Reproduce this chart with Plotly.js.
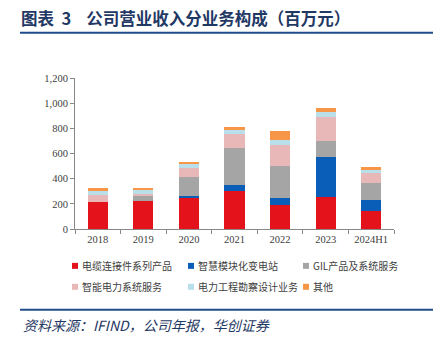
<!DOCTYPE html>
<html><head><meta charset="utf-8">
<script src="https://cdn.plot.ly/plotly-3.0.1.min.js"></script>
<style>html,body{margin:0;padding:0;background:#fff;}#c{width:439px;height:338px;}</style>
</head><body><div id="c"></div>
<script>
const categories = ['2018','2019','2020','2021','2022','2023','2024H1'];
const seriesNames = ['电缆连接件系列产品','智慧模块化变电站','GIL产品及系统服务','智能电力系统服务','电力工程勘察设计业务','其他'];
const cable   = [215, 222, 249, 305, 193, 254, 146];
const station = [0,   3,   13,  45,  56,  316, 87];
const gil     = [0,   35,  154, 294, 252, 130, 133];
const smart   = [55,  19,  66,  114, 169, 188, 77];
const survey  = [32,  32,  35,  32,  38,  40,  26];
const other   = [20,  15,  16,  21,  71,  34,  21];
const colors = ['#E3121B','#0B5EB8','#A5A5A5','#E8B8B8','#B9DFEA','#F79646'];
const seriesData = [cable, station, gil, smart, survey, other];

const W=439,H=338, L=75, R=394, T=77.5, B=229;
const px = x => (x-L)/(R-L);
const py = y => (B-y)/(B-T);

const traces = seriesData.map((d,i)=>({
  type:'bar', x:categories, y:d, name:seriesNames[i],
  marker:{color:colors[i], line:{width:0}}, showlegend:false, hoverinfo:'none'
}));

const annotations = [];
const shapes = [];
// title
annotations.push({xref:'paper',yref:'paper',x:px(19),y:py(17),xanchor:'left',yanchor:'middle',
  text:'<b>图表&nbsp;&nbsp;3&nbsp;&nbsp;&nbsp;&nbsp;公司营业收入分业务构成（百万元）</b>',showarrow:false,
  font:{family:'Noto Sans CJK SC',size:16.5,color:'#1F3864'}});
shapes.push({type:'line',xref:'paper',yref:'paper',x0:px(20),x1:px(433),y0:py(32),y1:py(32),line:{color:'#1F4E8C',width:2}});
// footer
shapes.push({type:'line',xref:'paper',yref:'paper',x0:px(20),x1:px(433),y0:py(310),y1:py(310),line:{color:'#1F4E8C',width:2}});
annotations.push({xref:'paper',yref:'paper',x:px(21),y:py(325),xanchor:'left',yanchor:'middle',
  text:'<i>资料来源：IFIND，公司年报，华创证券</i>',showarrow:false,
  font:{family:'Noto Sans CJK SC',size:14,color:'#1F3864'}});
// legend
const legX=[72,188,303], legY=[266,287];
seriesNames.forEach((n,i)=>{
  const cx=legX[i%3], cy=legY[Math.floor(i/3)];
  shapes.push({type:'rect',xref:'paper',yref:'paper',x0:px(cx),x1:px(cx+6),y0:py(cy-3),y1:py(cy+3),
    fillcolor:colors[i],line:{width:0}});
  annotations.push({xref:'paper',yref:'paper',x:px(cx+8),y:py(cy),xanchor:'left',yanchor:'middle',
    text:n,showarrow:false,font:{family:'Noto Sans CJK SC',size:10,color:'#404040'}});
});

const layout = {
  width:W,height:H,margin:{l:L,r:W-R,t:T,b:H-B},
  paper_bgcolor:'#fff',plot_bgcolor:'#fff',
  barmode:'stack',bargap:0.56,
  xaxis:{type:'category',showline:true,linecolor:'#888',linewidth:1,ticks:'outside',tickson:'boundaries',
    ticklen:4,tickcolor:'#888',showgrid:false,zeroline:false,
    tickfont:{family:'Liberation Serif',size:10.5,color:'#404040'}},
  yaxis:{range:[0,1200],dtick:200,tickformat:',d',showline:true,linecolor:'#888',linewidth:1,ticks:'outside',
    ticklen:4,tickcolor:'#888',showgrid:false,zeroline:false,
    tickfont:{family:'Liberation Serif',size:10.5,color:'#404040'}},
  shapes, annotations, showlegend:false
};
Plotly.newPlot('c',traces,layout,{staticPlot:true,displayModeBar:false});
</script></body></html>
